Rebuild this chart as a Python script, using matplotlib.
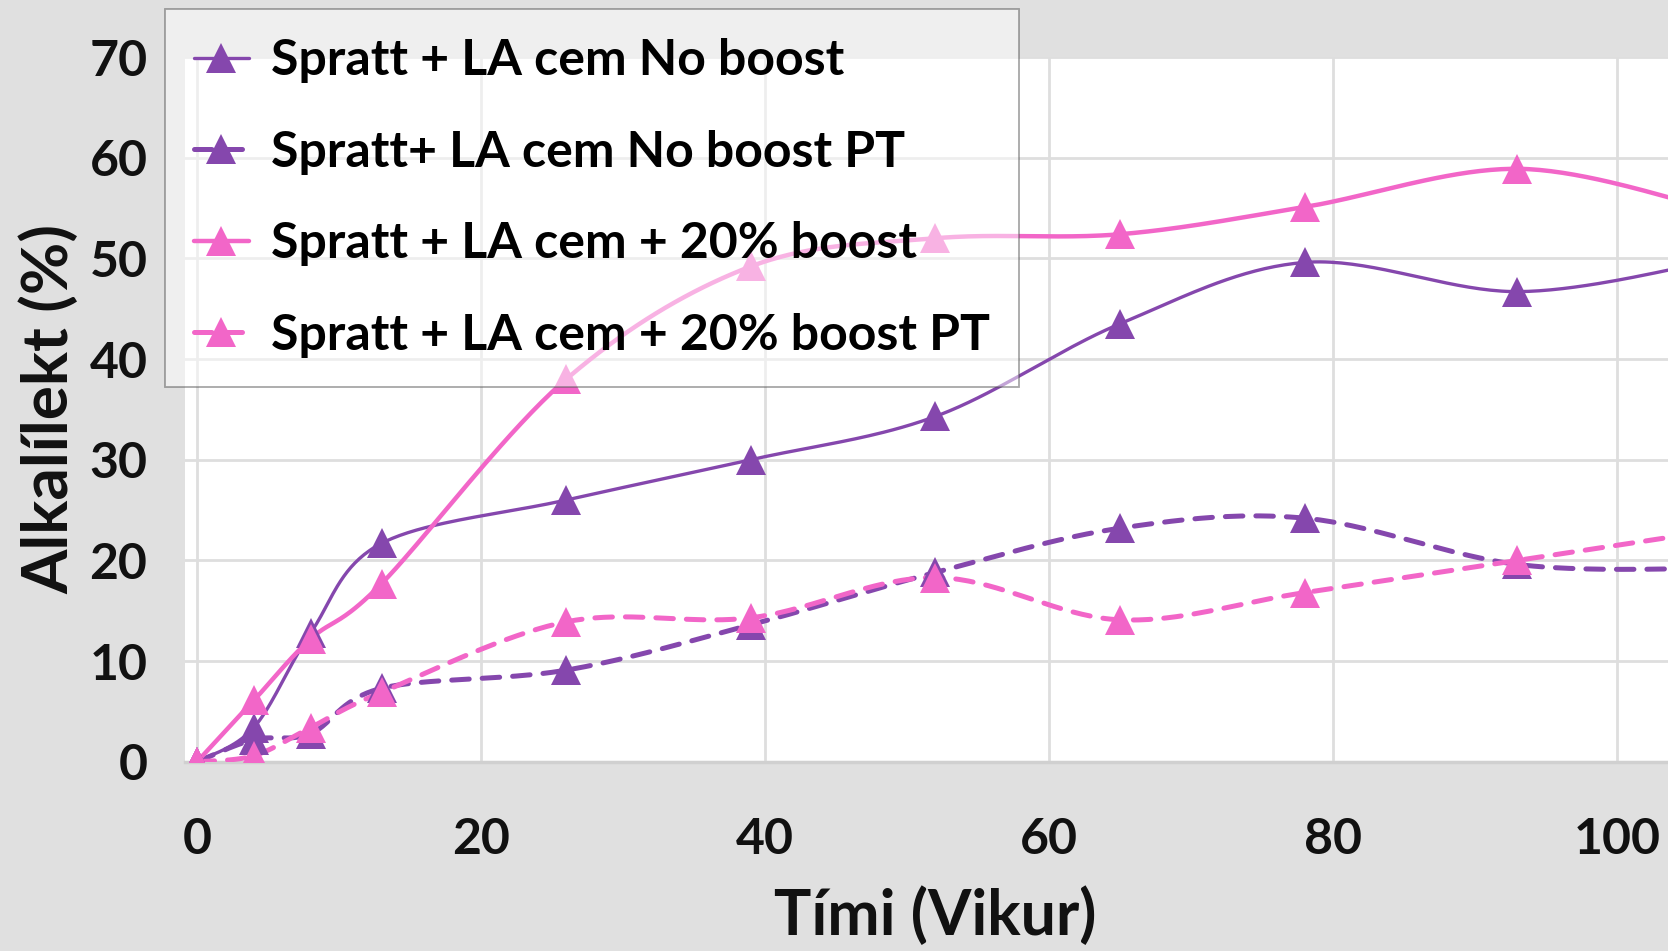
import matplotlib
matplotlib.use('Agg')
import matplotlib.pyplot as plt
import numpy as np

plt.rcParams['font.family'] = ['Lato', 'DejaVu Sans']
plt.rcParams['font.weight'] = 'bold'

# vikur (weeks)
weeks = [0, 4, 8, 13, 26, 39, 52, 65, 78, 93, 107]

no_boost = [0, 3.4, 12.8, 21.7, 26.0, 30.0, 34.3, 43.5, 49.6, 46.7, 49.8]
no_boost_pt = [0, 2.2, 2.8, 7.3, 9.1, 13.6, 18.8, 23.2, 24.2, 19.6, 19.2]
boost20 = [0, 6.1, 12.2, 17.7, 38.0, 49.2, 52.0, 52.4, 55.1, 58.9, 54.8]
boost20_pt = [0, 0.6, 3.4, 6.9, 13.9, 14.3, 18.3, 14.1, 16.8, 20.0, 23.0]

labels = ['Spratt + LA cem No boost', 'Spratt+ LA cem No boost PT',
          'Spratt + LA cem + 20% boost', 'Spratt + LA cem + 20% boost PT']

x_ticks = [0, 20, 40, 60, 80, 100]
y_ticks = [0, 10, 20, 30, 40, 50, 60, 70]

PURPLE = '#8547ad'
PINK = '#f266c8'
BG = '#e0e0e0'


def smooth(xs, ys, n=40):
    """Bezier smoothing like Excel's smoothed lines (Catmull-Rom tangents)"""
    pts = np.column_stack([xs, ys]).astype(float)
    P = np.vstack([pts[0], pts, pts[-1]])
    out = []
    t = np.linspace(0, 1, n)[:, None]
    for i in range(1, len(P) - 2):
        p0, p1, p2, p3 = P[i - 1], P[i], P[i + 1], P[i + 2]
        c1 = p1 + (p2 - p0) / 6
        c2 = p2 - (p3 - p1) / 6
        seg = (1 - t) ** 3 * p1 + 3 * (1 - t) ** 2 * t * c1 + 3 * (1 - t) * t ** 2 * c2 + t ** 3 * p2
        out.append(seg)
    out = np.vstack(out)
    return out[:, 0], out[:, 1]


fig = plt.figure(figsize=(16.68, 9.51), dpi=100, facecolor=BG)
ax = fig.add_axes([0.1109, 0.199, 0.8891, 0.741])
ax.set_facecolor('white')

series = [
    (no_boost, PURPLE, '-', 2.4),
    (no_boost_pt, PURPLE, '--', 3.6),
    (boost20, PINK, '-', 3.2),
    (boost20_pt, PINK, '--', 3.6),
]

handles = []
for (vals, col, ls, lw), lab in zip(series, labels):
    sx, sy = smooth(weeks, vals)
    kw = dict(color=col, lw=lw, solid_capstyle='round')
    if ls == '--':
        kw.update(dashes=(3.5, 2.6), dash_capstyle='round')
    ax.plot(sx, sy, **kw, zorder=3)
    ax.plot(weeks, vals, linestyle='none', marker='^', ms=22, color=col,
            markeredgewidth=0, zorder=4)
    h, = ax.plot([], [], marker='^', ms=22, markeredgewidth=0,
                 label=lab, **kw)
    handles.append(h)

ax.set_xlim(-0.85, 103.6)
ax.set_ylim(0, 70)
ax.set_xticks(x_ticks)
ax.set_yticks(y_ticks)
ax.grid(True, color='#dedede', lw=2.0, zorder=0)
ax.set_axisbelow(True)
for s in ['top', 'right', 'left']:
    ax.spines[s].set_visible(False)
ax.spines['bottom'].set_color('#d0d0d0')
ax.spines['bottom'].set_linewidth(2.5)
ax.tick_params(length=0, labelsize=36, colors='#111111')
ax.tick_params(axis='x', pad=40)
ax.tick_params(axis='y', pad=27)

fig.text(0.561, 0.037, 'Tími (Vikur)', ha='center', va='center',
         fontsize=45, fontweight='bold', color='#111111')
fig.text(0.029, 0.570, 'Alkalílekt (%)', ha='center', va='center',
         rotation=90, fontsize=46, fontweight='bold', color='#111111')

leg = ax.legend(handles=handles, loc='upper left',
                bbox_to_anchor=(0.0989, 0.9905), bbox_transform=fig.transFigure,
                borderaxespad=0, fontsize=36, frameon=True, fancybox=False,
                framealpha=0.5, facecolor='white', edgecolor='#505050',
                handlelength=1.1, handletextpad=0.45, labelspacing=0.93,
                borderpad=0.58)
leg.get_frame().set_linewidth(1.3)
leg.set_zorder(10)

fig.savefig('out.png', dpi=100, facecolor=BG)
